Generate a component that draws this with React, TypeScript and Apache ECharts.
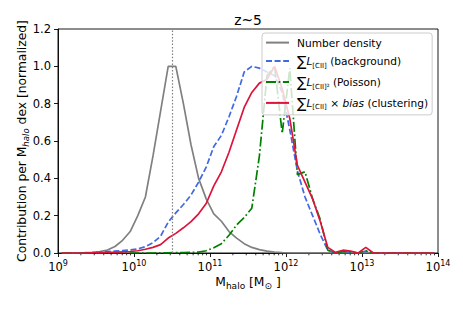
import React, { useEffect, useRef } from "react";
import * as echarts from "echarts";

// log10(M_halo / M_sun), bin centres
const logM = [
  9.05, 9.15, 9.25, 9.35, 9.45, 9.55, 9.65, 9.75, 9.85, 9.95,
  10.05, 10.15, 10.25, 10.35, 10.45, 10.55, 10.65, 10.75, 10.85, 10.95,
  11.05, 11.15, 11.25, 11.35, 11.45, 11.55, 11.65, 11.75, 11.85, 11.95,
  12.05, 12.15, 12.25, 12.35, 12.45, 12.55, 12.65, 12.75, 12.85, 12.95,
  13.05, 13.15, 13.25, 13.35, 13.45, 13.55, 13.65, 13.75, 13.85, 13.95,
];

const numberDensity = [
  0, 0, 0.001, 0.002, 0.004, 0.008, 0.016, 0.035, 0.068, 0.115,
  0.2, 0.3, 0.52, 0.76, 1.0, 1.0, 0.8, 0.58, 0.4, 0.29,
  0.21, 0.17, 0.115, 0.08, 0.05, 0.03, 0.018, 0.01, 0.005, 0.002,
  0.001, 0, 0, 0, 0, 0, 0, 0, 0, 0,
  0, 0, 0, 0, 0, 0, 0, 0, 0, 0,
];

const background = [
  0, 0, 0, 0.001, 0.002, 0.004, 0.007, 0.01, 0.013, 0.017,
  0.022, 0.034, 0.055, 0.09, 0.165, 0.215, 0.26, 0.31, 0.38, 0.46,
  0.57, 0.63, 0.73, 0.84, 0.97, 1.0, 0.99, 0.97, 0.95, 0.86,
  0.66, 0.44, 0.3, 0.2, 0.1, 0.015, 0, 0.008, 0.005, 0,
  0.01, 0, 0, 0, 0, 0, 0, 0, 0, 0,
];

const poisson = [
  0, 0, 0, 0, 0, 0, 0, 0, 0, 0,
  0, 0, 0, 0.001, 0.001, 0.002, 0.002, 0.003, 0.005, 0.012,
  0.028, 0.05, 0.095, 0.15, 0.19, 0.24, 0.52, 0.95, 1.0, 0.64,
  0.99, 0.42, 0.435, 0.29, 0.18, 0.015, 0, 0.008, 0.005, 0,
  0.012, 0, 0, 0, 0, 0, 0, 0, 0, 0,
];

const clustering = [
  0, 0, 0, 0, 0.001, 0.002, 0.003, 0.004, 0.006, 0.008,
  0.012, 0.02, 0.03, 0.045, 0.08, 0.105, 0.135, 0.168, 0.21, 0.265,
  0.36, 0.435, 0.54, 0.66, 0.78, 0.86, 0.91, 0.93, 1.0, 0.88,
  0.72, 0.47, 0.38, 0.29, 0.17, 0.03, 0.003, 0.015, 0.01, 0,
  0.03, 0, 0, 0, 0, 0, 0, 0, 0, 0,
];

const peakLogM = 10.5; // dotted vertical line
const seriesNames = ["nd", "bg", "po", "cl"];

// minor tick positions of the log axis (2..9 x 10^n)
const minorTicks: number[] = [];
for (let n = 9; n < 14; n++) {
  for (let k = 2; k <= 9; k++) minorTicks.push(n + Math.log10(k));
}

const FONT = "DejaVu Sans";
const FS = 11.5;
const LFS = 10.6;
const NFS = 12.3;

export default function App() {
  const ref = useRef<HTMLDivElement>(null);
  useEffect(() => {
    if (!ref.current) return;
    const chart = echarts.init(ref.current, undefined, { renderer: "svg" });
    const toData = (arr: number[]) => logM.map((x, i) => [x, arr[i]]);
    const lw = 1.7;
    const legendRich = {
      n: { fontSize: LFS, lineHeight: 16, fontFamily: FONT, color: "#000" },
      sum: { fontSize: 14, lineHeight: 16, fontFamily: FONT, color: "#000" },
      L: { fontSize: LFS, lineHeight: 16, fontStyle: "italic", fontFamily: FONT, color: "#000" },
      sub: { fontSize: 7, lineHeight: 8, verticalAlign: "bottom", fontFamily: FONT, color: "#000" },
      it: { fontSize: LFS, lineHeight: 16, fontStyle: "italic", fontFamily: FONT, color: "#000" },
    };
    const legendText: Record<string, string> = {
      nd: "{n|Number density}",
      bg: "{sum|∑}{L|L}{sub|[CII]}{n| (background)}",
      po: "{sum|∑}{L|L}{sub|[CII]²}{n| (Poisson)}",
      cl: "{sum|∑}{L|L}{sub|[CII]}{n| × }{it|bias}{n| (clustering)}",
    };
    chart.setOption({
      animation: false,
      title: {
        text: "z~5",
        left: 248,
        top: 13,
        textAlign: "center",
        padding: 0,
        textStyle: { fontSize: 13.8, fontWeight: "normal", color: "#000", fontFamily: FONT },
      },
      grid: {
        left: 58,
        right: 25,
        top: 29,
        bottom: 56,
        show: true,
        borderColor: "#000",
        borderWidth: 0.9,
        backgroundColor: "transparent",
      },
      legend: {
        data: seriesNames,
        orient: "vertical",
        left: 262,
        top: 33,
        padding: [4, 4, 4, 3],
        itemGap: 5.9,
        itemWidth: 23,
        itemHeight: 14,
        itemStyle: { opacity: 0, color: "transparent", borderWidth: 0 },
        backgroundColor: "rgba(255,255,255,0.8)",
        borderColor: "#cccccc",
        borderWidth: 1,
        borderRadius: 3,
        formatter: (name: string) => legendText[name],
        textStyle: { fontSize: LFS, fontFamily: FONT, color: "#000", rich: legendRich, padding: [0, 0, 0, 3] },
      },
      xAxis: {
        type: "value",
        min: 9,
        max: 14,
        interval: 1,
        name: "{a|M}{s|halo}{a| [M}{s|⊙}{a| ]}",
        nameLocation: "middle",
        nameGap: 20,
        nameMoveOverlap: false,
        nameTextStyle: {
          rich: {
            a: { fontSize: NFS, lineHeight: 17, fontFamily: FONT, color: "#000" },
            s: { fontSize: 9, lineHeight: 9, verticalAlign: "bottom", fontFamily: FONT, color: "#000" },
          },
        },
        axisLine: { show: true, onZero: false, lineStyle: { color: "#000", width: 0.9 } },
        axisTick: { show: true, inside: false, length: 4, lineStyle: { color: "#000", width: 0.9 } },
        splitLine: { show: false },
        axisLabel: {
          margin: 6,
          formatter: (v: number) => `{b|10}{s|${Math.round(v)}}`,
          rich: {
            b: { fontSize: FS, lineHeight: 15, fontFamily: FONT, color: "#000" },
            s: { fontSize: 8, lineHeight: 8, verticalAlign: "top", fontFamily: FONT, color: "#000" },
          },
        },
      },
      yAxis: {
        type: "value",
        min: 0,
        max: 1.2,
        interval: 0.2,
        name: "{a|Contribution per M}{s|halo}{a| dex [normalized]}",
        nameLocation: "middle",
        nameGap: 28,
        nameMoveOverlap: false,
        nameTextStyle: {
          rich: {
            a: { fontSize: NFS, lineHeight: 17, fontFamily: FONT, color: "#000" },
            s: { fontSize: 8.6, lineHeight: 9, verticalAlign: "bottom", fontStyle: "italic", fontFamily: FONT, color: "#000" },
          },
        },
        axisLine: { show: true, lineStyle: { color: "#000", width: 0.9 } },
        axisTick: { show: true, inside: false, length: 4, lineStyle: { color: "#000", width: 0.9 } },
        splitLine: { show: false },
        axisLabel: {
          margin: 7,
          fontSize: FS,
          fontFamily: FONT,
          color: "#000",
          formatter: (v: number) => v.toFixed(1),
        },
      },
      series: [
        {
          name: "nd",
          type: "line",
          data: toData(numberDensity),
          symbol: "none",
          lineStyle: { color: "#808080", width: lw },
          itemStyle: { color: "#808080" },
          markLine: {
            silent: true,
            symbol: "none",
            label: { show: false },
            lineStyle: { color: "#808080", width: 1.2, type: [1.5, 1.8] },
            data: [{ xAxis: peakLogM }],
          },
        },
        {
          name: "bg",
          type: "line",
          data: toData(background),
          symbol: "none",
          lineStyle: { color: "#4169E1", width: lw, type: [6, 2.6] },
          itemStyle: { color: "#4169E1" },
        },
        {
          name: "po",
          type: "line",
          data: toData(poisson),
          symbol: "none",
          lineStyle: { color: "#008000", width: lw, type: [10, 2.6, 1.7, 2.6] },
          itemStyle: { color: "#008000" },
        },
        {
          name: "cl",
          type: "line",
          data: toData(clustering),
          symbol: "none",
          lineStyle: { color: "#DC143C", width: lw },
          itemStyle: { color: "#DC143C" },
        },
        {
          name: "minorTicks",
          type: "custom",
          silent: true,
          clip: false,
          data: minorTicks.map((v) => [v, 0]),
          renderItem: (_p: any, api: any) => {
            const p = api.coord([api.value(0), 0]);
            return {
              type: "line",
              shape: { x1: p[0], y1: p[1], x2: p[0], y2: p[1] + 2.3 },
              style: { stroke: "#000", lineWidth: 0.8 },
            };
          },
        },
      ],
    });
    return () => chart.dispose();
  }, []);
  return (
    <div
      ref={ref}
      style={{ position: "absolute", left: 0, top: 0, width: 463, height: 309 }}
    />
  );
}
